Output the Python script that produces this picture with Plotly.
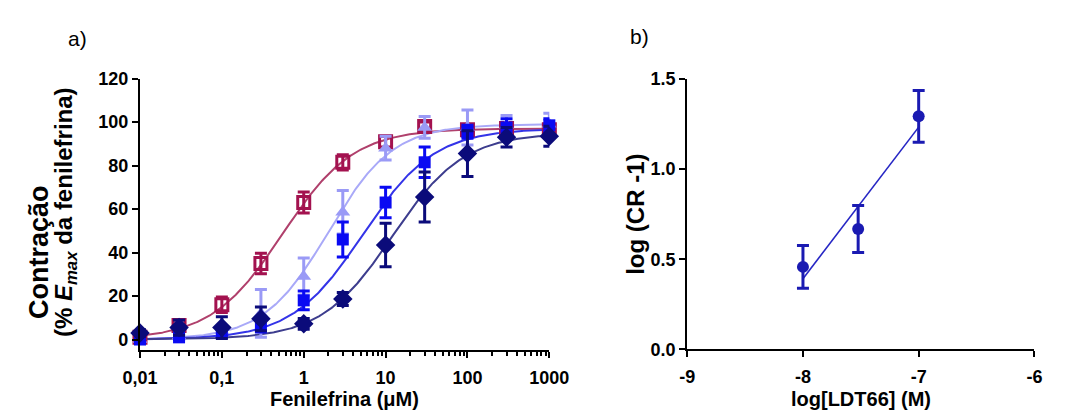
import numpy as np
import plotly.graph_objects as go

# ---- Panel a: phenylephrine concentration-response (mean ± SEM) ----
conc = [0.01, 0.03, 0.1, 0.3, 1, 3, 10, 30, 100, 300, 1000]

ctrl_mean = [1.0, 6.5, 16.0, 35.0, 63.0, 81.5, 91.0, 98.0, 96.5, 97.0, 96.5]
ctrl_sem = [1.5, 2.5, 3.6, 4.7, 4.8, 3.5, 2.5, 2.0, 2.0, 2.0, 2.0]

ldt10_mean = [0.0, 1.5, 4.0, 12.0, 29.0, 58.5, 88.0, 97.5, 97.5, 98.5, 99.0]
ldt10_sem = [1.0, 1.5, 2.0, 11.0, 8.5, 10.0, 5.5, 5.0, 8.0, 4.5, 5.0]

ldt30_mean = [0.0, 1.0, 3.0, 6.5, 18.0, 46.0, 63.0, 81.5, 95.5, 97.5, 98.5]
ldt30_sem = [1.0, 1.0, 1.5, 3.0, 4.3, 8.0, 7.0, 7.0, 3.0, 4.0, 3.0]

ldt100_mean = [3.0, 5.5, 5.5, 9.5, 7.2, 18.6, 43.5, 65.5, 85.5, 93.0, 93.5]
ldt100_sem = [1.5, 3.5, 5.0, 5.5, 2.5, 3.0, 10.0, 11.5, 10.5, 4.5, 4.6]

# four-parameter logistic fits (bottom, top, EC50 in µM, Hill slope)
fit_bottom = [0.0, 0.0, 0.0, 0.0]
fit_top = [97.0, 99.0, 97.0, 95.0]
fit_ec50 = [0.55, 2.0, 5.3, 12.1]
fit_hill = [1.0, 1.1, 1.0, 1.0]

x_ticks = [0.01, 0.1, 1, 10, 100, 1000]
x_ticktext = ["0,01", "0,1", "1", "10", "100", "1000"]
y_ticks_a = [0, 20, 40, 60, 80, 100, 120]

# ---- Panel b: Schild plot ----
ldt_log = [-8.0, -7.523, -7.0]
log_cr = [0.458, 0.668, 1.293]
log_cr_sem = [0.118, 0.130, 0.143]

x_ticks_b = [-9, -8, -7, -6]
y_ticks_b = [0.0, 0.5, 1.0, 1.5]

FONT = "Liberation Sans, Arial, sans-serif"


def bold(labels):
    return ["<b>%s</b>" % t for t in labels]


series = [
    dict(mean=ctrl_mean, sem=ctrl_sem, marker="square-open", size=12, lw=3,
         mcol="#A3124F", lcol="#B0406C"),
    dict(mean=ldt10_mean, sem=ldt10_sem, marker="triangle-up", size=13, lw=0,
         mcol="#9A9AF6", lcol="#A9A9F8"),
    dict(mean=ldt30_mean, sem=ldt30_sem, marker="square", size=12, lw=0,
         mcol="#0A0AF2", lcol="#3434E8"),
    dict(mean=ldt100_mean, sem=ldt100_sem, marker="diamond", size=15, lw=0,
         mcol="#0B0B7A", lcol="#3D3D8E"),
]

fig = go.Figure()

xs = np.logspace(-2, 3, 300)
for i, s in enumerate(series):
    ys = fit_bottom[i] + (fit_top[i] - fit_bottom[i]) / (
        1 + (fit_ec50[i] / xs) ** fit_hill[i])
    fig.add_trace(go.Scatter(
        x=xs, y=ys, mode="lines", line=dict(color=s["lcol"], width=2),
        xaxis="x", yaxis="y", showlegend=False, hoverinfo="skip"))

for s in series:
    fig.add_trace(go.Scatter(
        x=conc, y=s["mean"], mode="markers",
        marker=dict(symbol=s["marker"], size=s["size"], color=s["mcol"],
                    line=dict(color=s["mcol"], width=s["lw"])),
        error_y=dict(type="data", array=s["sem"], color=s["mcol"],
                     thickness=3, width=6),
        cliponaxis=False, xaxis="x", yaxis="y", showlegend=False))

# Schild regression line
slope, intercept = np.polyfit(ldt_log, log_cr, 1)
line_x = [min(ldt_log), max(ldt_log)]
line_y = [slope * v + intercept for v in line_x]
fig.add_trace(go.Scatter(
    x=line_x, y=line_y, mode="lines", line=dict(color="#2626C4", width=1.6),
    xaxis="x2", yaxis="y2", showlegend=False))
fig.add_trace(go.Scatter(
    x=ldt_log, y=log_cr, mode="markers",
    marker=dict(symbol="circle", size=12, color="#1A1AB2"),
    error_y=dict(type="data", array=log_cr_sem, color="#1A1AB2",
                 thickness=3, width=6),
    cliponaxis=False, xaxis="x2", yaxis="y2", showlegend=False))

W, H = 1065, 418


def fx(px):
    return px / W


def fy(py):
    return 1 - py / H


axis_common = dict(showline=True, linewidth=2, linecolor="black",
                   showgrid=False, zeroline=False, ticks="outside",
                   ticklen=6, tickwidth=2, tickcolor="black",
                   tickfont=dict(family=FONT, size=18, color="black",
                                 weight=700))

fig.update_layout(
    width=W, height=H, margin=dict(l=0, r=0, t=0, b=0),
    paper_bgcolor="white", plot_bgcolor="white",
    xaxis=dict(axis_common, type="log", range=[-2, 3],
               domain=[fx(126.5), fx(551)], anchor="y",
               tickvals=x_ticks, ticktext=bold(x_ticktext),
               ticklabelstandoff=4,
               minor=dict(tickvals=[m * 10.0 ** e for e in range(-2, 3)
                                    for m in range(2, 10)],
                          ticks="outside", ticklen=4, tickwidth=1.5,
                          tickcolor="black")),
    yaxis=dict(axis_common, range=[-5, 120], domain=[fy(357.5), fy(72)],
               anchor="x", tickvals=y_ticks_a,
               ticktext=bold([str(v) for v in y_ticks_a])),
    xaxis2=dict(axis_common, range=[-9, -6], domain=[fx(694), fx(1054)],
                anchor="y2", tickvals=x_ticks_b,
                ticktext=bold(["%d" % v for v in x_ticks_b]),
                ticklabelstandoff=4),
    yaxis2=dict(axis_common, range=[0, 1.5], domain=[fy(356.5), fy(72.5)],
                anchor="x2", tickvals=y_ticks_b,
                ticktext=bold(["%.1f" % v for v in y_ticks_b])),
)

ann = []


def add_text(text, x, y, size, angle=0, weight="bold"):
    ann.append(dict(text=text, x=fx(x), y=fy(y), xref="paper", yref="paper",
                    xanchor="center", yanchor="middle", showarrow=False,
                    textangle=angle,
                    font=dict(family=FONT, size=size, color="black",
                              weight=weight)))


add_text("a)", 62, 30, 21, weight="normal")
add_text("b)", 644, 28, 21, weight="normal")
add_text("<b>Contração</b>", 22, 254, 27, angle=-90)
add_text("<b>(% <i>E</i><sub><i>max</i></sub> da fenilefrina)</b>", 50, 212,
         24, angle=-90)
add_text("<b>Fenilefrina (μM)</b>", 339, 409, 20)
add_text("<b>log (CR -1)</b>", 641, 215, 24, angle=-90)
add_text("<b>log[LDT66] (M)</b>", 874, 409, 20)
fig.update_layout(annotations=ann)

fig.write_html("out.html")
